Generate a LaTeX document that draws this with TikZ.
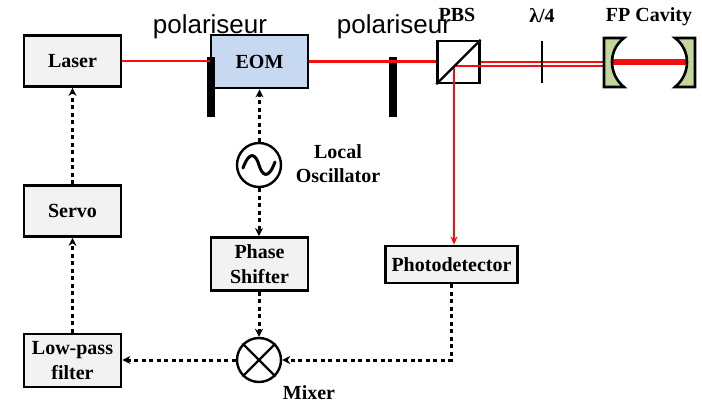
\documentclass[tikz,border=0pt]{standalone}
\usepackage{fontspec}
\setmainfont{Liberation Serif}
\newfontfamily\polfont{Liberation Sans}
\usepackage{tikz}
\usetikzlibrary{calc,arrows.meta}
\definecolor{boxgray}{HTML}{F2F2F2}
\definecolor{eomblue}{HTML}{C6D9F1}
\definecolor{mirrorgreen}{HTML}{C3D69B}
\definecolor{beamred}{HTML}{F01010}
\tikzset{
    box/.style={draw, line width=2.8pt, fill=boxgray, minimum width=97pt, minimum height=51pt, align=center, font=\fontsize{20}{25}\selectfont\bfseries, inner sep=0pt},
    round/.style={draw, circle, line width=2.4pt, fill=white, minimum size=44pt, inner sep=0pt},
    bar/.style={fill=black, minimum width=8pt, minimum height=60pt, inner sep=0pt},
    lbl/.style={align=center, font=\fontsize{20}{24}\selectfont\bfseries, inner sep=0pt},
    pol/.style={font=\fontsize{26}{30}\selectfont\polfont, inner sep=0pt},
    beam/.style={beamred, line width=2.4pt},
    signal/.style={-{Stealth[length=8pt,width=8pt]}, line width=3pt, dash pattern=on 4pt off 3.5pt},
    mirror/.style={draw, line width=2.6pt, fill=mirrorgreen}
}
\begin{document}
\begin{tikzpicture}[x=1pt, y=-1pt]
    \useasboundingbox (0,0) rectangle (702,404);

    % Boxes
    \node[box] (laser) at (72.5,61) {Laser};
    \node[box, fill=eomblue, minimum height=53pt] (eom) at (259.5,61.5) {EOM};
    \node[box] (servo) at (72.5,211) {Servo};
    \node[box, minimum height=53pt] (lowpass) at (72.5,360.5) {Low-pass\\filter};
    \node[box, minimum height=53pt] (shifter) at (259.5,264) {Phase\\Shifter};
    \node[box, minimum width=132pt, minimum height=37pt] (detector) at (451.5,264.5) {Photodetector};
    \node[round] (osc) at (259,165) {};
    \node[round] (mixer) at (259,360) {};

    % Polarisers and beam splitter
    \node[bar] (polone) at (211,87) {};
    \node[bar] (poltwo) at (393,87) {};
    \node[draw, line width=2.4pt, fill=white, minimum size=42pt, inner sep=0pt] (pbs) at (458.5,62) {};
    \coordinate (wave) at (542,62);
    \coordinate (cavin) at (606,62);
    \coordinate (cavlow) at (606,66);
    \coordinate (cavleft) at (612,62);
    \coordinate (cavright) at (686,62);
    \coordinate (split) at (454,66);

    % Text
    \node[pol] (polonetxt) at (210,27) {polariseur};
    \node[pol] (poltwotxt) at (394,27) {polariseur};
    \node[lbl] (pbstxt) at (457,15) {PBS};
    \node[lbl] (wavetxt) at (542,16) {λ/4};
    \node[lbl] (cavtxt) at (649,17) {FP Cavity};
    \node[lbl] (osctxt) at (338,164) {Local\\Oscillator};
    \node[lbl] (mixtxt) at (309,393) {Mixer};

    % Beams
    \draw[beam] (laser.east) -- (laser.east -| eom.west);
    \draw[beam] (eom.east) -- (eom.east -| pbs.west);
    \draw[beam] (pbs.east) -- (cavin);
    \draw[beam] (split) -- (cavlow);
    \draw[beam, -{Stealth[length=8pt,width=7pt]}] (split) -- (split |- detector.north);
    \draw[beamred, line width=6pt] (cavleft) -- (cavright);
    \draw[line width=2.4pt] (pbs.south west) -- (pbs.north east);
    \draw[line width=1.8pt] ($(wave)+(0,-21)$) -- ($(wave)+(0,21)$);

    % Signals
    \draw[signal] (eom.south |- osc.north) -- (eom.south);
    \draw[signal] (osc.south) -- (osc.south |- shifter.north);
    \draw[signal] (shifter.south -| mixer.north) -- (mixer.north);
    \draw[signal] (mixer.west) -- (lowpass.east |- mixer.west);
    \draw[signal] (lowpass.north) -- (servo.south);
    \draw[signal] (servo.north) -- (laser.south);
    \draw[signal] (detector.south) |- (mixer.east);

    % Oscillator and mixer symbols
    \draw[line width=3pt, line cap=round] ($(osc)+(-16,3)$) .. controls ($(osc)+(-9,-16)$) and ($(osc)+(-3,-10)$) .. (osc.center) .. controls ($(osc)+(3,10)$) and ($(osc)+(9,16)$) .. ($(osc)+(16,-3)$);
    \draw[line width=2.4pt] (mixer.45) -- (mixer.225);
    \draw[line width=2.4pt] (mixer.135) -- (mixer.315);

    % Mirrors
    \draw[mirror] (604,38) -- (624,38) .. controls (608,50) and (608,74) .. (624,87) -- (604,87) -- cycle;
    \draw[mirror] (695,38) -- (675,38) .. controls (691,50) and (691,74) .. (675,87) -- (695,87) -- cycle;
\end{tikzpicture}
\end{document}
